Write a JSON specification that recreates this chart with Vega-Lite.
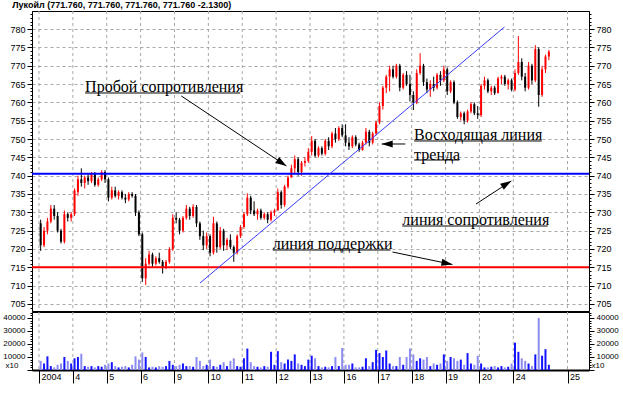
{
  "$schema": "https://vega.github.io/schema/vega-lite/v6.json",
  "background": "white",
  "padding": {"left": 2, "top": 0, "right": 4, "bottom": 8},
  "title": {"text": "Лукойл (771.760, 771.760, 771.760, 771.760 -2.1300)", "anchor": "start", "frame": "bounds", "font": "Liberation Sans", "fontSize": 9, "fontWeight": "bold", "color": "#000000", "offset": 0, "dx": 10},
  "spacing": 1,
  "bounds": "flush",
  "config": {
    "view": {"stroke": "#000000", "strokeWidth": 1},
    "axis": {"labelFont": "Liberation Sans", "labelFontSize": 9, "labelColor": "#000000", "tickColor": "#000000", "domainColor": "#000000", "gridColor": "#a8a8a8", "gridDash": [3, 3], "gridWidth": 1}
  },
  "datasets": {
    "bars": [
      {"i":0,"o":727,"h":728,"l":719.5,"c":721,"v":7000},
      {"i":1,"o":721,"h":726,"l":720.5,"c":725,"v":5000},
      {"i":2,"o":725,"h":728.5,"l":724,"c":727.5,"v":10500},
      {"i":3,"o":727.5,"h":732,"l":727,"c":731,"v":3000},
      {"i":4,"o":731,"h":732,"l":728,"c":729,"v":2000},
      {"i":5,"o":729,"h":730,"l":724.5,"c":725,"v":4000},
      {"i":6,"o":725,"h":725.5,"l":721.5,"c":722,"v":5000},
      {"i":7,"o":722,"h":730.5,"l":721.5,"c":729.5,"v":10000},
      {"i":8,"o":729.5,"h":730,"l":727.5,"c":728.5,"v":7000},
      {"i":9,"o":728.5,"h":730,"l":727.5,"c":729.5,"v":5000},
      {"i":10,"o":729.5,"h":736.5,"l":729,"c":736,"v":9000},
      {"i":11,"o":735.5,"h":740,"l":734.5,"c":739,"v":10000},
      {"i":12,"o":739,"h":742,"l":737,"c":738,"v":12500},
      {"i":13,"o":738,"h":740,"l":736.5,"c":739.5,"v":3000},
      {"i":14,"o":739.5,"h":740.5,"l":737.5,"c":738.5,"v":2500},
      {"i":15,"o":738.5,"h":741,"l":738,"c":740.5,"v":3000},
      {"i":16,"o":740.5,"h":741,"l":737,"c":737.5,"v":2000},
      {"i":17,"o":737.5,"h":739.5,"l":737,"c":739,"v":3000},
      {"i":18,"o":739,"h":741.5,"l":738.5,"c":741,"v":2500},
      {"i":19,"o":741,"h":741.5,"l":738,"c":739,"v":4000},
      {"i":20,"o":739,"h":739.5,"l":733,"c":734,"v":5000},
      {"i":21,"o":734,"h":737,"l":733.5,"c":736,"v":6000},
      {"i":22,"o":736,"h":737,"l":734,"c":734.5,"v":3000},
      {"i":23,"o":734.5,"h":736,"l":733.5,"c":735.5,"v":2000},
      {"i":24,"o":735.5,"h":736,"l":733.5,"c":734,"v":2500},
      {"i":25,"o":734,"h":735,"l":732.5,"c":733.5,"v":3000},
      {"i":26,"o":733.5,"h":735.5,"l":733,"c":735,"v":2000},
      {"i":27,"o":735,"h":735.5,"l":734,"c":734.5,"v":4000},
      {"i":28,"o":734.5,"h":735,"l":729,"c":730,"v":10500},
      {"i":29,"o":730,"h":730.5,"l":723.5,"c":724,"v":8000},
      {"i":30,"o":724,"h":724.5,"l":711,"c":712,"v":13500},
      {"i":31,"o":712,"h":717.5,"l":710.2,"c":716,"v":10000},
      {"i":32,"o":716,"h":719.5,"l":715.5,"c":718.5,"v":2000},
      {"i":33,"o":718.5,"h":719,"l":715,"c":716,"v":2500},
      {"i":34,"o":716,"h":718,"l":715.5,"c":717.5,"v":2000},
      {"i":35,"o":717.5,"h":719,"l":716,"c":716.5,"v":3000},
      {"i":36,"o":716.5,"h":717,"l":713.3,"c":715,"v":2500},
      {"i":37,"o":715,"h":717,"l":714.5,"c":716.5,"v":3000},
      {"i":38,"o":716.5,"h":720.5,"l":716,"c":720,"v":7000},
      {"i":39,"o":720,"h":729.5,"l":719.5,"c":728.5,"v":4000},
      {"i":40,"o":728.5,"h":730,"l":727,"c":728,"v":3000},
      {"i":41,"o":728,"h":728.5,"l":724,"c":725,"v":4000},
      {"i":42,"o":725,"h":729,"l":724.5,"c":728.5,"v":5000},
      {"i":43,"o":728.5,"h":732,"l":728,"c":731,"v":3000},
      {"i":44,"o":731,"h":731.5,"l":728,"c":729,"v":3000},
      {"i":45,"o":729,"h":732.2,"l":728.5,"c":731.5,"v":2500},
      {"i":46,"o":731.5,"h":732,"l":726,"c":727,"v":10000},
      {"i":47,"o":727,"h":727.5,"l":722.5,"c":723.5,"v":7000},
      {"i":48,"o":723.5,"h":725,"l":719.7,"c":721,"v":3000},
      {"i":49,"o":721,"h":724.5,"l":720,"c":723.5,"v":4000},
      {"i":50,"o":723.5,"h":724,"l":718,"c":719,"v":8000},
      {"i":51,"o":719,"h":728.8,"l":718.5,"c":727,"v":3000},
      {"i":52,"o":727,"h":727.5,"l":719,"c":720.5,"v":2500},
      {"i":53,"o":720.5,"h":726,"l":720,"c":725,"v":4000},
      {"i":54,"o":725,"h":725.5,"l":719.5,"c":721,"v":6000},
      {"i":55,"o":721,"h":723,"l":719.7,"c":722.5,"v":3000},
      {"i":56,"o":722.5,"h":724,"l":720,"c":720.5,"v":7000},
      {"i":57,"o":720.5,"h":721,"l":716.5,"c":719,"v":9000},
      {"i":58,"o":719,"h":724,"l":718.5,"c":723.5,"v":3000},
      {"i":59,"o":723.5,"h":726.5,"l":723,"c":726,"v":2500},
      {"i":60,"o":726,"h":730,"l":725.5,"c":729.5,"v":9000},
      {"i":61,"o":729.5,"h":735.2,"l":729,"c":734,"v":16500},
      {"i":62,"o":734,"h":734.5,"l":729.5,"c":730.5,"v":6000},
      {"i":63,"o":730.5,"h":733,"l":729,"c":729.5,"v":3000},
      {"i":64,"o":729.5,"h":731,"l":728,"c":730.5,"v":2500},
      {"i":65,"o":730.5,"h":731,"l":728,"c":728.5,"v":2000},
      {"i":66,"o":728.5,"h":730,"l":728,"c":729.5,"v":3000},
      {"i":67,"o":729.5,"h":730,"l":727,"c":728,"v":2500},
      {"i":68,"o":728,"h":730.5,"l":727.5,"c":730,"v":14000},
      {"i":69,"o":730,"h":731,"l":729,"c":730.5,"v":4000},
      {"i":70,"o":730.5,"h":736.5,"l":730.5,"c":735.5,"v":14500},
      {"i":71,"o":735.5,"h":736,"l":731,"c":732,"v":6000},
      {"i":72,"o":732,"h":737.5,"l":731.5,"c":737,"v":5000},
      {"i":73,"o":737,"h":740,"l":736.5,"c":739.5,"v":8000},
      {"i":74,"o":739.5,"h":743,"l":739.5,"c":742,"v":7000},
      {"i":75,"o":742,"h":745.5,"l":740.5,"c":744.5,"v":12000},
      {"i":76,"o":744.5,"h":745,"l":740,"c":741,"v":5000},
      {"i":77,"o":741,"h":744,"l":740,"c":743.5,"v":4000},
      {"i":78,"o":743.5,"h":745,"l":742.5,"c":744,"v":3000},
      {"i":79,"o":744,"h":747.5,"l":743.5,"c":746.5,"v":8000},
      {"i":80,"o":746.5,"h":750.8,"l":745.5,"c":749.5,"v":11000},
      {"i":81,"o":749.5,"h":750,"l":745,"c":745.5,"v":9000},
      {"i":82,"o":745.5,"h":748,"l":745,"c":747.5,"v":3000},
      {"i":83,"o":747.5,"h":748,"l":745.5,"c":746,"v":2000},
      {"i":84,"o":746,"h":750,"l":745.5,"c":749.5,"v":2500},
      {"i":85,"o":749.5,"h":750.5,"l":747,"c":748,"v":2000},
      {"i":86,"o":748,"h":752,"l":747.5,"c":751.5,"v":3000},
      {"i":87,"o":751.5,"h":753,"l":749,"c":750,"v":10000},
      {"i":88,"o":750,"h":753.5,"l":749.5,"c":753,"v":3000},
      {"i":89,"o":753,"h":754,"l":750.5,"c":751,"v":17000},
      {"i":90,"o":751,"h":754,"l":748,"c":749,"v":4000},
      {"i":91,"o":749,"h":750.5,"l":747,"c":748,"v":4000},
      {"i":92,"o":748,"h":751,"l":747.5,"c":750.5,"v":5000},
      {"i":93,"o":750.5,"h":751,"l":748,"c":748.5,"v":2000},
      {"i":94,"o":748.5,"h":749,"l":746.5,"c":747,"v":2000},
      {"i":95,"o":747,"h":749.5,"l":746.8,"c":749,"v":2500},
      {"i":96,"o":749,"h":753,"l":748.5,"c":752,"v":9000},
      {"i":97,"o":752,"h":752.5,"l":748,"c":749,"v":3000},
      {"i":98,"o":749,"h":752,"l":748.5,"c":751.5,"v":6000},
      {"i":99,"o":751.5,"h":755,"l":751,"c":754.5,"v":15500},
      {"i":100,"o":754.5,"h":760,"l":754,"c":759,"v":13000},
      {"i":101,"o":759,"h":764.5,"l":758,"c":764,"v":10000},
      {"i":102,"o":764,"h":767.5,"l":762.5,"c":767,"v":15000},
      {"i":103,"o":767,"h":770,"l":763,"c":769,"v":5000},
      {"i":104,"o":769,"h":770,"l":766.5,"c":767,"v":3000},
      {"i":105,"o":767,"h":770.5,"l":766.5,"c":770,"v":3000},
      {"i":106,"o":770,"h":770.5,"l":763,"c":764,"v":10000},
      {"i":107,"o":764,"h":768,"l":763.5,"c":767.5,"v":4000},
      {"i":108,"o":767.5,"h":768.5,"l":764.5,"c":765,"v":10000},
      {"i":109,"o":765,"h":767.5,"l":760.2,"c":762,"v":16500},
      {"i":110,"o":762,"h":763,"l":757.9,"c":760,"v":12000},
      {"i":111,"o":760,"h":769,"l":759.5,"c":768,"v":7000},
      {"i":112,"o":768,"h":773.4,"l":767.5,"c":770,"v":9000},
      {"i":113,"o":770,"h":770.5,"l":764.5,"c":765.5,"v":8000},
      {"i":114,"o":765.5,"h":766.5,"l":762.5,"c":763.5,"v":10000},
      {"i":115,"o":763.5,"h":766,"l":761.5,"c":765,"v":3000},
      {"i":116,"o":765,"h":767,"l":763,"c":764,"v":5000},
      {"i":117,"o":764,"h":768,"l":763.5,"c":767.5,"v":4000},
      {"i":118,"o":767.5,"h":768.5,"l":764.5,"c":766,"v":5000},
      {"i":119,"o":766,"h":770,"l":765.5,"c":769,"v":12000},
      {"i":120,"o":769,"h":769.5,"l":762,"c":763,"v":7000},
      {"i":121,"o":763,"h":766,"l":762.5,"c":765.5,"v":10000},
      {"i":122,"o":765.5,"h":766,"l":759.5,"c":760,"v":9000},
      {"i":123,"o":760,"h":760.5,"l":755.5,"c":756,"v":7000},
      {"i":124,"o":756,"h":757.5,"l":755,"c":757,"v":8000},
      {"i":125,"o":757,"h":757.5,"l":754,"c":755,"v":4000},
      {"i":126,"o":755,"h":758,"l":754.5,"c":757.5,"v":13000},
      {"i":127,"o":757.5,"h":760,"l":757,"c":759.5,"v":5000},
      {"i":128,"o":759.5,"h":760,"l":756.5,"c":757,"v":4000},
      {"i":129,"o":757,"h":759,"l":755.5,"c":756.5,"v":11000},
      {"i":130,"o":756.5,"h":765,"l":756,"c":764.5,"v":5000},
      {"i":131,"o":764.5,"h":767,"l":763.5,"c":766,"v":2000},
      {"i":132,"o":766,"h":766.5,"l":762.5,"c":763,"v":2000},
      {"i":133,"o":763,"h":764.5,"l":762,"c":764,"v":2500},
      {"i":134,"o":764,"h":764.5,"l":762,"c":762.5,"v":3000},
      {"i":135,"o":762.5,"h":767,"l":762.5,"c":766.5,"v":2000},
      {"i":136,"o":766.5,"h":767.5,"l":765,"c":767,"v":3000},
      {"i":137,"o":767,"h":767.5,"l":764.5,"c":765,"v":2000},
      {"i":138,"o":765,"h":766.5,"l":763.5,"c":766,"v":2500},
      {"i":139,"o":766,"h":766.5,"l":763,"c":763.5,"v":5000},
      {"i":140,"o":763.5,"h":769,"l":763,"c":768,"v":21000},
      {"i":141,"o":768,"h":778.1,"l":767.5,"c":771,"v":14000},
      {"i":142,"o":771,"h":772,"l":766,"c":767,"v":9000},
      {"i":143,"o":767,"h":768,"l":763,"c":764,"v":7000},
      {"i":144,"o":764,"h":771,"l":763.5,"c":770,"v":5000},
      {"i":145,"o":770,"h":770.5,"l":765,"c":766,"v":3000},
      {"i":146,"o":766,"h":775.6,"l":765.5,"c":774.5,"v":12000},
      {"i":147,"o":774.5,"h":775,"l":758.8,"c":762,"v":40000},
      {"i":148,"o":762,"h":770,"l":761.5,"c":769,"v":11000},
      {"i":149,"o":769,"h":773,"l":768,"c":772.5,"v":16000},
      {"i":150,"o":772.5,"h":774.3,"l":771.5,"c":773.8,"v":4000}
    ],
    "days": [
      {"b": -0.5}, {"b": 9.5}, {"b": 19.5}, {"b": 29.5}, {"b": 39.5}, {"b": 49.5}, {"b": 59.5}, {"b": 69.5},
      {"b": 79.5}, {"b": 89.5}, {"b": 99.5}, {"b": 109.5}, {"b": 119.5}, {"b": 129.5}, {"b": 139.5}, {"b": 155.5}
    ]
  },
  "vconcat": [
    {
      "width": 557,
      "height": 300,
      "resolve": {"axis": {"y": "independent"}},
      "layer": [
        {
          "data": {"name": "days"},
          "mark": {"type": "rule", "strokeWidth": 1, "color": "#a8a8a8", "strokeDash": [3, 3]},
          "encoding": {
            "x": {"field": "b", "type": "quantitative", "scale": {"domain": [-1.08, 160.37], "nice": false, "zero": false}, "axis": null}
          }
        },
        {
          "data": {"name": "bars"},
          "mark": {"type": "rule", "strokeWidth": 1},
          "encoding": {
            "x": {"field": "i", "type": "quantitative", "axis": null},
            "y": {"field": "l", "type": "quantitative", "scale": {"domain": [703.09, 784.91], "nice": false, "zero": false},
              "axis": {"orient": "left", "title": null, "values": [704,705,706,707,708,709,710,711,712,713,714,715,716,717,718,719,720,721,722,723,724,725,726,727,728,729,730,731,732,733,734,735,736,737,738,739,740,741,742,743,744,745,746,747,748,749,750,751,752,753,754,755,756,757,758,759,760,761,762,763,764,765,766,767,768,769,770,771,772,773,774,775,776,777,778,779,780,781,782,783,784],
                "labelExpr": "datum.value % 5 === 0 ? datum.label : ''", "labelOverlap": false, "labelBound": false, "labelPadding": 2,
                "tickSize": {"condition": {"test": "datum.value % 5 === 0", "value": 5}, "value": 2},
                "grid": true, "gridOpacity": {"condition": {"test": "datum.value % 5 === 0", "value": 1}, "value": 0},
                "minExtent": 27, "maxExtent": 27}},
            "y2": {"field": "h"},
            "color": {"condition": {"test": "datum.c >= datum.o", "value": "#ff0000"}, "value": "#000000"}
          }
        },
        {
          "data": {"name": "bars"},
          "mark": {"type": "bar", "size": 2},
          "encoding": {
            "x": {"field": "i", "type": "quantitative", "axis": null},
            "y": {"field": "o", "type": "quantitative",
              "axis": {"orient": "right", "title": null, "values": [704,705,706,707,708,709,710,711,712,713,714,715,716,717,718,719,720,721,722,723,724,725,726,727,728,729,730,731,732,733,734,735,736,737,738,739,740,741,742,743,744,745,746,747,748,749,750,751,752,753,754,755,756,757,758,759,760,761,762,763,764,765,766,767,768,769,770,771,772,773,774,775,776,777,778,779,780,781,782,783,784],
                "labelExpr": "datum.value % 5 === 0 ? datum.label : ''", "labelOverlap": false, "labelBound": false, "labelPadding": 2,
                "tickSize": {"condition": {"test": "datum.value % 5 === 0", "value": 5}, "value": 2},
                "grid": false, "minExtent": 30, "maxExtent": 30}},
            "y2": {"field": "c"},
            "color": {"condition": {"test": "datum.c >= datum.o", "value": "#ff0000"}, "value": "#000000"}
          }
        },
        {
          "data": {"values": [{"level": 740.5, "name": "resistance"}, {"level": 715, "name": "support"}]},
          "mark": {"type": "rule", "strokeWidth": 2},
          "encoding": {
            "y": {"field": "level", "type": "quantitative", "axis": null},
            "color": {"field": "name", "type": "nominal", "scale": {"domain": ["resistance", "support"], "range": ["#0000ff", "#ff0000"]}, "legend": null}
          }
        },
        {
          "data": {"values": [{"i": 47.04, "p": 710.73, "i2": 136.89, "p2": 780.55}]},
          "mark": {"type": "rule", "strokeWidth": 1, "color": "#3a3aff"},
          "encoding": {
            "x": {"field": "i", "type": "quantitative", "axis": null},
            "y": {"field": "p", "type": "quantitative", "axis": null},
            "x2": {"field": "i2"},
            "y2": {"field": "p2"}
          }
        },
        {
          "data": {"values": [
            {"t": "Пробой сопротивления", "i": 13.12, "p": 764.18},
            {"t": "Восходящая линия", "i": 110.23, "p": 751.09},
            {"t": "тренда", "i": 110.23, "p": 745.64},
            {"t": "линия сопротивления", "i": 106.75, "p": 727.91},
            {"t": "линия поддержки", "i": 68.49, "p": 721.37}
          ]},
          "mark": {"type": "text", "align": "left", "baseline": "middle", "font": "Liberation Serif", "fontSize": 16, "color": "#000000"},
          "encoding": {
            "x": {"field": "i", "type": "quantitative", "axis": null},
            "y": {"field": "p", "type": "quantitative", "axis": null},
            "text": {"field": "t"}
          }
        },
        {
          "data": {"values": [
            {"i": 13.12, "i2": 58.92, "p": 762.55},
            {"i": 110.23, "i2": 147.91, "p": 749.46},
            {"i": 110.23, "i2": 123.56, "p": 744.27},
            {"i": 106.75, "i2": 149.65, "p": 726.27},
            {"i": 68.49, "i2": 103.27, "p": 719.73}
          ]},
          "mark": {"type": "rule", "strokeWidth": 1, "color": "#000000"},
          "encoding": {
            "x": {"field": "i", "type": "quantitative", "axis": null},
            "x2": {"field": "i2"},
            "y": {"field": "p", "type": "quantitative", "axis": null}
          }
        },
        {
          "data": {"values": [
            {"i": 41.53, "p": 761.73, "i2": 72.54, "p2": 742.64},
            {"i": 107.62, "p": 748.64, "i2": 100.66, "p2": 748.64},
            {"i": 128.49, "p": 732.27, "i2": 138.92, "p2": 738.55},
            {"i": 103.85, "p": 719.18, "i2": 121.53, "p2": 715.78}
          ]},
          "mark": {"type": "rule", "strokeWidth": 1, "color": "#000000"},
          "encoding": {
            "x": {"field": "i", "type": "quantitative", "axis": null},
            "y": {"field": "p", "type": "quantitative", "axis": null},
            "x2": {"field": "i2"},
            "y2": {"field": "p2"}
          }
        },
        {
          "data": {"values": [{"i": 72.54, "p": 742.64}]},
          "mark": {"type": "point", "shape": "M0,0L0.55,1.7L-0.55,1.7Z", "filled": true, "color": "#000000", "opacity": 1, "size": 167, "angle": 123},
          "encoding": {"x": {"field": "i", "type": "quantitative", "axis": null}, "y": {"field": "p", "type": "quantitative", "axis": null}}
        },
        {
          "data": {"values": [{"i": 100.66, "p": 748.64}]},
          "mark": {"type": "point", "shape": "M0,0L0.55,1.7L-0.55,1.7Z", "filled": true, "color": "#000000", "opacity": 1, "size": 167, "angle": 270},
          "encoding": {"x": {"field": "i", "type": "quantitative", "axis": null}, "y": {"field": "p", "type": "quantitative", "axis": null}}
        },
        {
          "data": {"values": [{"i": 138.92, "p": 738.55}]},
          "mark": {"type": "point", "shape": "M0,0L0.55,1.7L-0.55,1.7Z", "filled": true, "color": "#000000", "opacity": 1, "size": 167, "angle": 58.6},
          "encoding": {"x": {"field": "i", "type": "quantitative", "axis": null}, "y": {"field": "p", "type": "quantitative", "axis": null}}
        },
        {
          "data": {"values": [{"i": 121.53, "p": 715.78}]},
          "mark": {"type": "point", "shape": "M0,0L0.55,1.7L-0.55,1.7Z", "filled": true, "color": "#000000", "opacity": 1, "size": 167, "angle": 101.3},
          "encoding": {"x": {"field": "i", "type": "quantitative", "axis": null}, "y": {"field": "p", "type": "quantitative", "axis": null}}
        }
      ]
    },
    {
      "width": 557,
      "height": 58,
      "resolve": {"axis": {"y": "independent"}},
      "layer": [
        {
          "data": {"name": "days"},
          "mark": {"type": "rule", "strokeWidth": 1, "color": "#a8a8a8", "strokeDash": [3, 3]},
          "encoding": {
            "x": {"field": "b", "type": "quantitative", "scale": {"domain": [-1.08, 160.37], "nice": false, "zero": false},
              "axis": {"values": [-0.5, 9.5, 19.5, 29.5, 39.5, 49.5, 59.5, 69.5, 79.5, 89.5, 99.5, 109.5, 119.5, 129.5, 139.5, 155.5],
                "labelExpr": "datum.value == 155.5 ? '25' : ['2004','4','5','6','9','10','11','12','13','16','17','18','19','20','24'][(datum.value + 0.5) / 10]",
                "labelAlign": "left", "labelBaseline": "middle", "labelPadding": -7, "labelOffset": 2, "labelOverlap": false, "labelBound": false, "labelFontSize": 9,
                "tickSize": 13, "domainWidth": 2, "grid": false, "title": null, "minExtent": 14, "maxExtent": 14}}
          }
        },
        {
          "data": {"name": "bars"},
          "transform": [{"filter": "datum.c >= datum.o"}],
          "mark": {"type": "bar", "size": 2, "color": "#1414ff"},
          "encoding": {
            "x": {"field": "i", "type": "quantitative",
              "axis": {"values": [-0.5, 9.5, 19.5, 29.5, 39.5, 49.5, 59.5, 69.5, 79.5, 89.5, 99.5, 109.5, 119.5, 129.5, 139.5, 155.5],
                "labelExpr": "datum.value == 155.5 ? '25' : ['2004','4','5','6','9','10','11','12','13','16','17','18','19','20','24'][(datum.value + 0.5) / 10]",
                "labelAlign": "left", "labelBaseline": "middle", "labelPadding": -7, "labelOffset": 2, "labelOverlap": false, "labelBound": false, "labelFontSize": 9,
                "tickSize": 13, "domainWidth": 2, "grid": false, "title": null, "minExtent": 14, "maxExtent": 14}},
            "y": {"field": "v", "type": "quantitative", "scale": {"domain": [0, 44600], "nice": false, "zero": true},
              "axis": {"orient": "left", "values": [0,2000,4000,6000,8000,10000,12000,14000,16000,18000,20000,22000,24000,26000,28000,30000,32000,34000,36000,38000,40000,42000,44000],
                "format": "d", "labelExpr": "datum.value % 10000 === 0 && datum.value > 0 ? datum.label : ''", "labelOverlap": false, "labelBound": false, "labelPadding": 2, "labelFontSize": 8,
                "tickSize": {"condition": {"test": "datum.value % 10000 === 0", "value": 5}, "value": 2},
                "grid": false, "title": "x10", "titleAngle": 0, "titleX": -27, "titleY": 53, "titleAlign": "left", "titleBaseline": "middle", "titleFont": "Liberation Sans", "titleFontSize": 8, "titleFontWeight": "normal", "titleColor": "#000000",
                "minExtent": 27, "maxExtent": 27}}
          }
        },
        {
          "data": {"name": "bars"},
          "transform": [{"filter": "datum.c < datum.o"}],
          "mark": {"type": "bar", "size": 2, "color": "#8c8cf0"},
          "encoding": {
            "x": {"field": "i", "type": "quantitative",
              "axis": {"values": [-0.5, 9.5, 19.5, 29.5, 39.5, 49.5, 59.5, 69.5, 79.5, 89.5, 99.5, 109.5, 119.5, 129.5, 139.5, 155.5],
                "labelExpr": "datum.value == 155.5 ? '25' : ['2004','4','5','6','9','10','11','12','13','16','17','18','19','20','24'][(datum.value + 0.5) / 10]",
                "labelAlign": "left", "labelBaseline": "middle", "labelPadding": -7, "labelOffset": 2, "labelOverlap": false, "labelBound": false, "labelFontSize": 9,
                "tickSize": 13, "domainWidth": 2, "grid": false, "title": null, "minExtent": 14, "maxExtent": 14}},
            "y": {"field": "v", "type": "quantitative",
              "axis": {"orient": "right", "values": [0,2000,4000,6000,8000,10000,12000,14000,16000,18000,20000,22000,24000,26000,28000,30000,32000,34000,36000,38000,40000,42000,44000],
                "format": "d", "labelExpr": "datum.value % 10000 === 0 && datum.value > 0 ? datum.label : ''", "labelOverlap": false, "labelBound": false, "labelPadding": 2, "labelFontSize": 8,
                "tickSize": {"condition": {"test": "datum.value % 10000 === 0", "value": 5}, "value": 2},
                "grid": false, "title": "x10", "titleAngle": 0, "titleX": 2, "titleY": 53, "titleAlign": "left", "titleBaseline": "middle", "titleFont": "Liberation Sans", "titleFontSize": 8, "titleFontWeight": "normal", "titleColor": "#000000",
                "minExtent": 30, "maxExtent": 30}}
          }
        }
      ]
    }
  ]
}
